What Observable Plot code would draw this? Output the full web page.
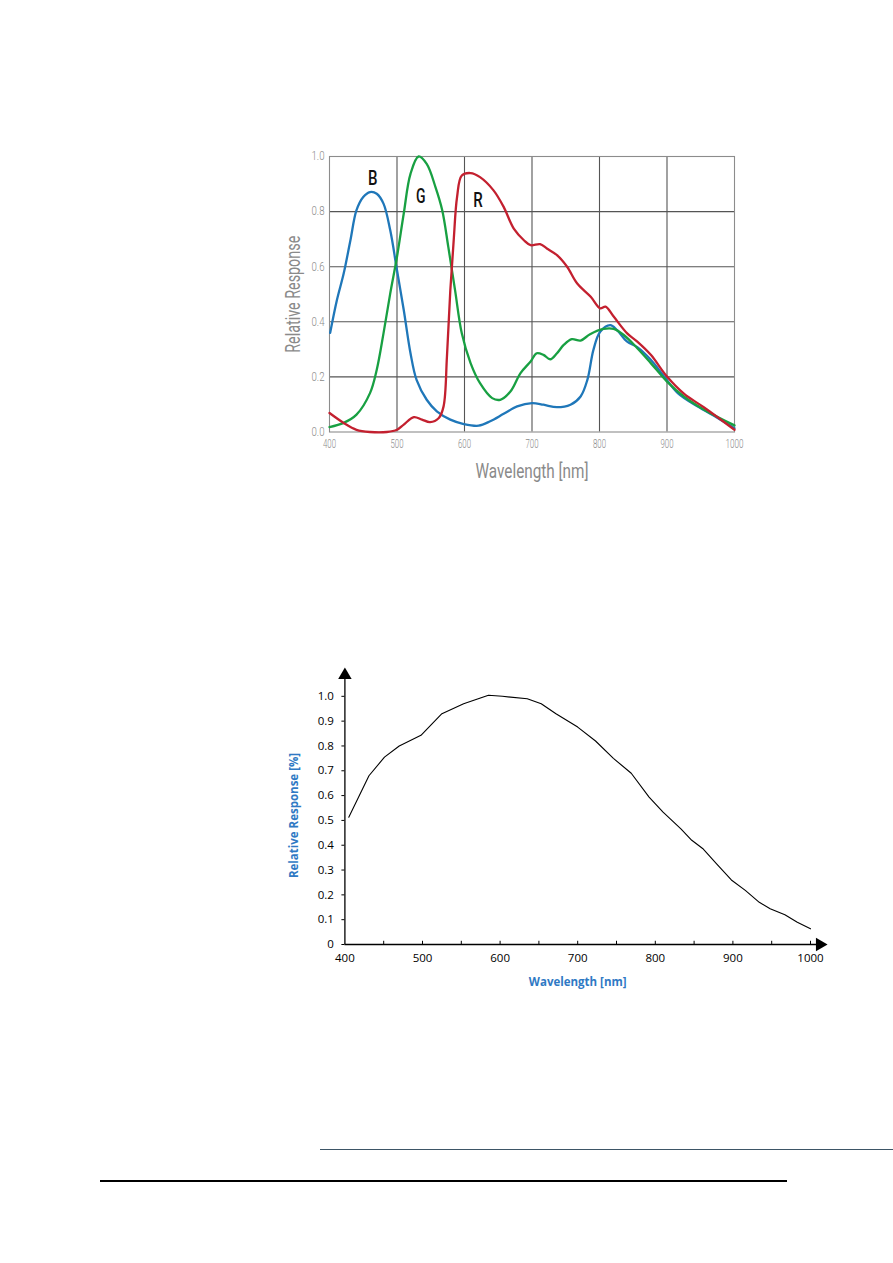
<!DOCTYPE html>
<html>
<head>
<meta charset="utf-8">
<script src="https://cdn.jsdelivr.net/npm/d3@7"></script>
<script src="https://cdn.jsdelivr.net/npm/@observablehq/plot@0.6"></script>
<style>
  html, body { margin: 0; padding: 0; background: #fff; }
  #page { position: relative; width: 893px; height: 1263px; overflow: hidden; background: #fff; }
  #c1wrap { position: absolute; left: 270px; top: 140px; width: 480px; height: 360px; }
  #c2wrap { position: absolute; left: 270px; top: 660px; width: 560px; height: 340px; }
  #c1wrap svg, #c2wrap svg { max-width: none !important; }
  .rule1 { position: absolute; left: 320px; top: 1149px; width: 573px; height: 1px; background: #3d5566; }
  .rule2 { position: absolute; left: 100px; top: 1180px; width: 687px; height: 1.5px; background: #000; }
</style>
</head>
<body>
<div id="page">
  <div id="c1wrap"></div>
  <div id="c2wrap"></div>
  <div class="rule1"></div>
  <div class="rule2"></div>
</div>
<script>
// ---------- Chart 1: colour sensor (B, G, R) ----------
const blueWl  = [401,411,421,431,440,450,460,470,480,490,500,510,520,529,544,559,579,599,621,638,658,678,700,717,737,757,772,782,791,801,816,826,841,856,876,896,916,945,975,1000];
const blueVal = [0.36,0.479,0.575,0.696,0.805,0.853,0.871,0.865,0.829,0.732,0.587,0.443,0.286,0.189,0.117,0.075,0.045,0.029,0.023,0.039,0.066,0.093,0.105,0.099,0.09,0.099,0.129,0.189,0.298,0.364,0.388,0.37,0.328,0.308,0.262,0.201,0.141,0.093,0.051,0.014];

const greenWl  = [400,421,440,460,470,480,490,500,510,520,532,544,557,567,576,586,596,609,623,641,653,668,683,698,707,717,727,737,747,759,772,786,806,821,836,856,876,900,925,955,1000];
const greenVal = [0.018,0.033,0.063,0.141,0.226,0.358,0.503,0.636,0.793,0.937,1.0,0.973,0.889,0.805,0.672,0.515,0.358,0.25,0.177,0.123,0.117,0.147,0.214,0.256,0.286,0.28,0.264,0.286,0.316,0.337,0.332,0.355,0.374,0.374,0.352,0.304,0.25,0.183,0.129,0.081,0.024];

const redWl  = [400,421,440,460,485,500,510,525,537,549,562,569,574,579,584,589,596,609,623,643,658,673,688,698,712,722,737,752,767,787,801,809,821,841,856,876,900,925,955,1000];
const redVal = [0.069,0.033,0.008,0.0,0.0,0.008,0.027,0.054,0.045,0.036,0.051,0.093,0.274,0.515,0.696,0.853,0.931,0.94,0.925,0.877,0.817,0.738,0.696,0.678,0.682,0.666,0.642,0.6,0.539,0.491,0.449,0.455,0.419,0.358,0.328,0.28,0.201,0.139,0.089,0.008];

const seriesNames  = ["B", "G", "R"];
const seriesColors = ["#1f77b9", "#18a042", "#c3202f"];
const labelWl  = [464, 535, 620];
const labelVal = [0.919, 0.855, 0.841];

const xTicks1 = [400, 500, 600, 700, 800, 900, 1000];
const yTicks1 = [0.0, 0.2, 0.4, 0.6, 0.8, 1.0];

// ---------- Chart 2: mono sensor ----------
const monoWl  = [405,431,451,470,498,525,553,585,603,635,653,672,700,723,746,769,792,810,833,847,861,879,898,916,934,948,967,983,1000];
const monoVal = [0.513,0.68,0.755,0.80,0.843,0.93,0.97,1.004,1.0,0.99,0.97,0.93,0.876,0.82,0.75,0.69,0.594,0.533,0.466,0.42,0.387,0.325,0.26,0.218,0.17,0.144,0.12,0.09,0.063];

const xTicks2 = [400, 500, 600, 700, 800, 900, 1000];
const xMinor2 = [450, 500, 550, 600, 650, 700, 750, 800, 850, 900, 950, 1000];
const yTicks2 = [0, 0.1, 0.2, 0.3, 0.4, 0.5, 0.6, 0.7, 0.8, 0.9, 1.0];

// ---------- build rows ----------
const rows1 = [];
[[blueWl, blueVal], [greenWl, greenVal], [redWl, redVal]].forEach(([w, v], i) => {
  w.forEach((x, j) => rows1.push({series: seriesNames[i], wl: x, val: v[j]}));
});
const labels1 = seriesNames.map((s, i) => ({s, wl: labelWl[i], val: labelVal[i]}));
const rows2 = monoWl.map((x, i) => ({wl: x, val: monoVal[i]}));

const font1 = 'Roboto, "Noto Sans", sans-serif';
const gray = "#8a8a8a";

const chart1 = Plot.plot({
  width: 480, height: 360,
  marginLeft: 59, marginRight: 16, marginTop: 16, marginBottom: 68.5,
  style: {fontFamily: font1, background: "transparent", overflow: "visible"},
  x: {domain: [400, 1000]},
  y: {domain: [0, 1]},
  color: {domain: seriesNames, range: seriesColors},
  marks: [
    Plot.gridX(xTicks1.slice(1, -1), {stroke: "#555", strokeOpacity: 1, strokeWidth: 1.1}),
    Plot.gridY(yTicks1.slice(1, -1), {stroke: "#555", strokeOpacity: 1, strokeWidth: 1.1}),
    Plot.frame({stroke: "#8c8c8c", strokeWidth: 1.1}),
    Plot.axisX({ticks: xTicks1, tickSize: 0, tickPadding: 7, label: null, fontSize: 12, fontWeight: 300, fill: gray, tickFormat: d => String(d), className: "c1tick"}),
    Plot.axisY({ticks: yTicks1, tickSize: 0, tickPadding: 5, label: null, fontSize: 12, fontWeight: 300, fill: gray, tickFormat: d => d.toFixed(1), className: "c1tick"}),
    Plot.line(rows1, {x: "wl", y: "val", z: "series", stroke: "series", strokeWidth: 2.3, curve: "catmull-rom"}),
    Plot.text(labels1, {x: "wl", y: "val", text: "s", fontSize: 20, fill: "#111", fontWeight: 500, className: "c1letters"}),
    Plot.text(["Wavelength [nm]"], {frameAnchor: "bottom", dy: 46, fontSize: 20, fill: gray, className: "c1xlabel"}),
    Plot.text(["Relative Response"], {frameAnchor: "left", textAnchor: "middle", rotate: -90, dx: -36, dy: 0, fontSize: 20, fill: gray, className: "c1ylabel"})
  ]
});
// condensed look: compress text widths
d3.select(chart1).selectAll(".c1xlabel text").attr("textLength", 113).attr("lengthAdjust", "spacingAndGlyphs");
d3.select(chart1).selectAll(".c1ylabel text").attr("textLength", 117).attr("lengthAdjust", "spacingAndGlyphs");
d3.select(chart1).selectAll(".c1letters text").attr("textLength", 9.5).attr("lengthAdjust", "spacingAndGlyphs");
d3.select(chart1).selectAll(".c1tick text").each(function() {
  const n = this.textContent.length;
  d3.select(this).attr("textLength", n === 4 ? 18 : 13).attr("lengthAdjust", "spacingAndGlyphs");
});
document.getElementById("c1wrap").appendChild(chart1);

const blue2 = "#2f79c4";
const font2 = '"Open Sans", "Noto Sans", sans-serif';
const chart2 = Plot.plot({
  width: 560, height: 340,
  marginLeft: 74.4, marginRight: 20, marginTop: 11, marginBottom: 56,
  style: {fontFamily: font2, background: "transparent", overflow: "visible"},
  x: {domain: [400, 1000]},
  y: {domain: [0, 1.1]},
  marks: [
    Plot.ruleY([0], {x1: 400, x2: 1010, stroke: "#000", strokeWidth: 1.3}),
    Plot.ruleX([400], {y1: 0, y2: 1.07, stroke: "#000", strokeWidth: 1.3}),
    Plot.dot([0], {x: 1012, y: 0, symbol: "triangle", rotate: 90, r: 5, fill: "#000", stroke: null}),
    Plot.dot([0], {x: 400, y: 1.085, symbol: "triangle", r: 5, fill: "#000", stroke: null}),
    Plot.ruleX(xMinor2, {y1: 0, y2: 0.013, stroke: "#000", strokeWidth: 1}),
    Plot.axisX({ticks: xTicks2, tickSize: 0, tickPadding: 9, label: null, fontSize: 11.5, fill: "#000", tickFormat: d => String(d)}),
    Plot.axisY({ticks: yTicks2, tickSize: 3, tickPadding: 8, label: null, fontSize: 11.5, fill: "#000", tickFormat: d => d === 0 ? "0" : d.toFixed(1)}),
    Plot.line(rows2, {x: "wl", y: "val", stroke: "#000", strokeWidth: 1.1}),
    Plot.text(["Wavelength [nm]"], {frameAnchor: "bottom", dy: 41, fontSize: 11.5, fontWeight: "bold", fill: blue2}),
    Plot.text(["Relative Response [%]"], {frameAnchor: "left", textAnchor: "middle", rotate: -90, dx: -51, dy: 7.5, fontSize: 11.5, fontWeight: "bold", fill: blue2})
  ]
});
document.getElementById("c2wrap").appendChild(chart2);
</script>
</body>
</html>
